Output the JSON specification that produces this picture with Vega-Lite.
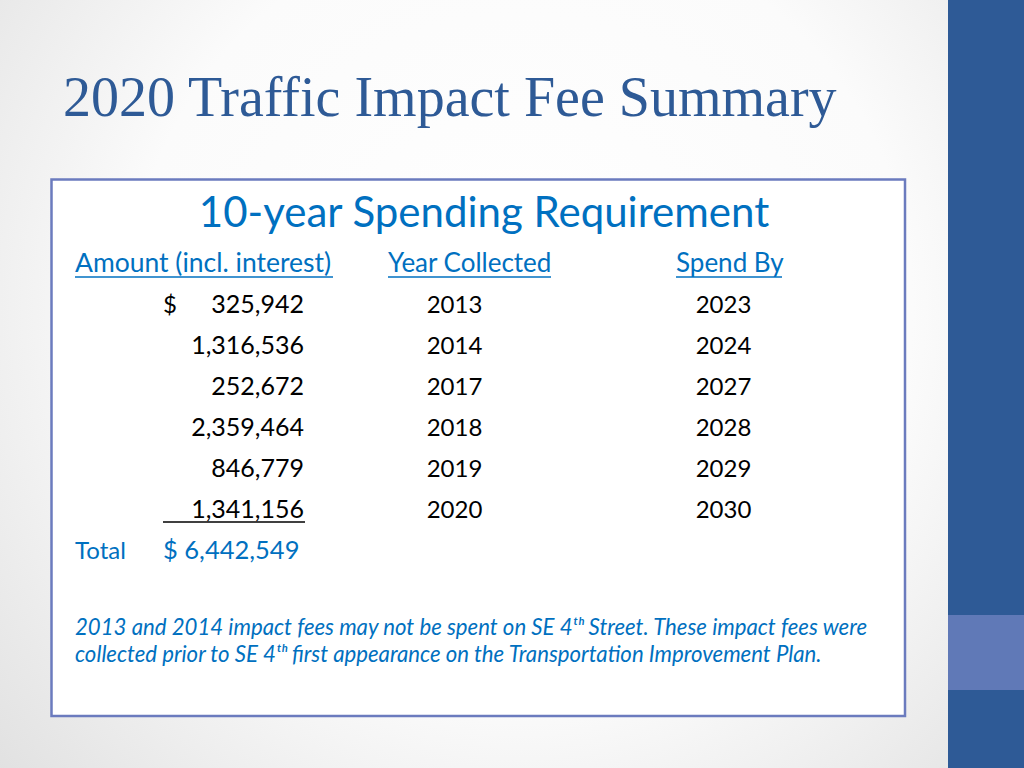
{
  "$schema": "https://vega.github.io/schema/vega-lite/v6.json",
  "width": 1024,
  "height": 768,
  "autosize": {"type": "fit", "contains": "padding"},
  "padding": 0,
  "background": "#ffffff",
  "config": {"view": {"stroke": null}},
  "datasets": {
    "texts": [
      {"id": "title", "text": "2020 Traffic Impact Fee Summary"},
      {"id": "subtitle", "text": "10-year Spending Requirement"},
      {"id": "note", "text": ["2013 and 2014 impact fees may not be spent on SE 4ᵗʰ Street.  These impact fees were", "collected prior to SE 4ᵗʰ first appearance on the Transportation Improvement Plan."]}
    ],
    "headers": [
      {"row": "H", "col": "amount", "label": "Amount (incl. interest)"},
      {"row": "H", "col": "collected", "label": "Year Collected"},
      {"row": "H", "col": "spend", "label": "Spend By"}
    ],
    "rows": [
      {"row": "1", "currency": "$", "amount": 325942, "collected": "2013", "spendBy": "2023"},
      {"row": "2", "currency": "", "amount": 1316536, "collected": "2014", "spendBy": "2024"},
      {"row": "3", "currency": "", "amount": 252672, "collected": "2017", "spendBy": "2027"},
      {"row": "4", "currency": "", "amount": 2359464, "collected": "2018", "spendBy": "2028"},
      {"row": "5", "currency": "", "amount": 846779, "collected": "2019", "spendBy": "2029"},
      {"row": "6", "currency": "", "amount": 1341156, "collected": "2020", "spendBy": "2030"}
    ],
    "total": [
      {"row": "T", "label": "Total", "amount": "$ 6,442,549"}
    ]
  },
  "resolve": {"scale": {"y": "independent"}},
  "layer": [
    {
      "data": {"name": "texts"},
      "layer": [
        {
          "mark": {"type": "rect", "fill": {"gradient": "radial", "x1": 0.55, "y1": 0.42, "r1": 0, "x2": 0.55, "y2": 0.42, "r2": 0.75, "stops": [{"offset": 0, "color": "#ffffff"}, {"offset": 0.55, "color": "#fbfbfb"}, {"offset": 1, "color": "#e0e0e0"}]}},
          "transform": [{"filter": "datum.id === 'title'"}],
          "encoding": {
            "x": {"datum": 0, "type": "quantitative", "scale": {"domain": [0, 1024], "nice": false, "zero": false}, "axis": null},
            "x2": {"datum": 948},
            "y": {"datum": 0, "type": "quantitative", "scale": {"domain": [0, 768], "reverse": true, "nice": false, "zero": false}, "axis": null},
            "y2": {"datum": 768}
          }
        },
        {
          "mark": {"type": "rect", "fill": "#2E5A96"},
          "transform": [{"filter": "datum.id === 'title'"}],
          "encoding": {
            "x": {"datum": 948, "type": "quantitative"},
            "x2": {"datum": 1024},
            "y": {"datum": 0, "type": "quantitative"},
            "y2": {"datum": 768}
          }
        },
        {
          "mark": {"type": "rect", "fill": "#6079B7"},
          "transform": [{"filter": "datum.id === 'title'"}],
          "encoding": {
            "x": {"datum": 948, "type": "quantitative"},
            "x2": {"datum": 1024},
            "y": {"datum": 615, "type": "quantitative"},
            "y2": {"datum": 690}
          }
        },
        {
          "mark": {"type": "rect", "fill": "#ffffff", "stroke": "#6B7BBE", "strokeWidth": 2.5},
          "transform": [{"filter": "datum.id === 'title'"}],
          "encoding": {
            "x": {"datum": 51.5, "type": "quantitative"},
            "x2": {"datum": 905},
            "y": {"datum": 179.5, "type": "quantitative"},
            "y2": {"datum": 716}
          }
        },
        {
          "mark": {"type": "text", "font": "Liberation Serif", "fontSize": 56, "color": "#2E5A96", "align": "left", "baseline": "alphabetic"},
          "transform": [{"filter": "datum.id === 'title'"}],
          "encoding": {
            "x": {"datum": 63, "type": "quantitative"},
            "y": {"datum": 116, "type": "quantitative"},
            "text": {"field": "text"}
          }
        },
        {
          "mark": {"type": "text", "font": "Lato", "fontSize": 42, "color": "#0070C0", "align": "center", "baseline": "alphabetic"},
          "transform": [{"filter": "datum.id === 'subtitle'"}],
          "encoding": {
            "x": {"datum": 484, "type": "quantitative"},
            "y": {"datum": 227, "type": "quantitative"},
            "text": {"field": "text"}
          }
        },
        {
          "mark": {"type": "text", "font": "Lato", "fontSize": 22.2, "fontStyle": "italic", "color": "#0070C0", "align": "left", "baseline": "alphabetic", "lineHeight": 27},
          "transform": [{"filter": "datum.id === 'note'"}],
          "encoding": {
            "x": {"datum": 75, "type": "quantitative"},
            "y": {"datum": 635, "type": "quantitative"},
            "text": {"field": "text"}
          }
        }
      ]
    },
    {
      "layer": [
        {
          "data": {"name": "headers"},
          "transform": [{"filter": "datum.col === 'amount'"}],
          "mark": {"type": "text", "font": "Lato", "fontSize": 26.5, "color": "#0070C0", "align": "left", "baseline": "alphabetic"},
          "encoding": {
            "x": {"datum": 75, "type": "quantitative"},
            "y": {"field": "row", "type": "ordinal", "scale": {"type": "point", "domain": ["H", "1", "2", "3", "4", "5", "6", "T"], "range": [272, 559], "padding": 0}, "axis": null},
            "text": {"field": "label"}
          }
        },
        {
          "data": {"name": "headers"},
          "transform": [{"filter": "datum.col === 'collected'"}],
          "mark": {"type": "text", "font": "Lato", "fontSize": 26, "color": "#0070C0", "align": "left", "baseline": "alphabetic"},
          "encoding": {
            "x": {"datum": 388, "type": "quantitative"},
            "y": {"field": "row", "type": "ordinal"},
            "text": {"field": "label"}
          }
        },
        {
          "data": {"name": "headers"},
          "transform": [{"filter": "datum.col === 'spend'"}],
          "mark": {"type": "text", "font": "Lato", "fontSize": 26, "color": "#0070C0", "align": "left", "baseline": "alphabetic"},
          "encoding": {
            "x": {"datum": 676, "type": "quantitative"},
            "y": {"field": "row", "type": "ordinal"},
            "text": {"field": "label"}
          }
        },
        {
          "data": {"name": "headers"},
          "transform": [{"filter": "datum.col === 'amount'"}],
          "mark": {"type": "rule", "color": "#0070C0", "strokeWidth": 1.5, "yOffset": 5},
          "encoding": {
            "x": {"datum": 75, "type": "quantitative"},
            "x2": {"datum": 333},
            "y": {"field": "row", "type": "ordinal"}
          }
        },
        {
          "data": {"name": "headers"},
          "transform": [{"filter": "datum.col === 'collected'"}],
          "mark": {"type": "rule", "color": "#0070C0", "strokeWidth": 1.5, "yOffset": 5},
          "encoding": {
            "x": {"datum": 388, "type": "quantitative"},
            "x2": {"datum": 551},
            "y": {"field": "row", "type": "ordinal"}
          }
        },
        {
          "data": {"name": "headers"},
          "transform": [{"filter": "datum.col === 'spend'"}],
          "mark": {"type": "rule", "color": "#0070C0", "strokeWidth": 1.5, "yOffset": 5},
          "encoding": {
            "x": {"datum": 676, "type": "quantitative"},
            "x2": {"datum": 782},
            "y": {"field": "row", "type": "ordinal"}
          }
        },
        {
          "data": {"name": "rows"},
          "mark": {"type": "text", "font": "Lato", "fontSize": 24, "color": "#000000", "align": "left", "baseline": "alphabetic"},
          "encoding": {
            "x": {"datum": 163, "type": "quantitative"},
            "y": {"field": "row", "type": "ordinal"},
            "text": {"field": "currency"}
          }
        },
        {
          "data": {"name": "rows"},
          "mark": {"type": "text", "font": "Lato", "fontSize": 25, "color": "#000000", "align": "right", "baseline": "alphabetic"},
          "encoding": {
            "x": {"datum": 304, "type": "quantitative"},
            "y": {"field": "row", "type": "ordinal"},
            "text": {"field": "amount", "type": "quantitative", "format": ","}
          }
        },
        {
          "data": {"name": "rows"},
          "mark": {"type": "text", "font": "Lato", "fontSize": 24, "color": "#000000", "align": "center", "baseline": "alphabetic"},
          "encoding": {
            "x": {"datum": 454.5, "type": "quantitative"},
            "y": {"field": "row", "type": "ordinal"},
            "text": {"field": "collected"}
          }
        },
        {
          "data": {"name": "rows"},
          "mark": {"type": "text", "font": "Lato", "fontSize": 24, "color": "#000000", "align": "center", "baseline": "alphabetic"},
          "encoding": {
            "x": {"datum": 723.5, "type": "quantitative"},
            "y": {"field": "row", "type": "ordinal"},
            "text": {"field": "spendBy"}
          }
        },
        {
          "data": {"name": "rows"},
          "transform": [{"filter": "datum.row === '6'"}],
          "mark": {"type": "rule", "color": "#000000", "strokeWidth": 1.5, "yOffset": 4},
          "encoding": {
            "x": {"datum": 163, "type": "quantitative"},
            "x2": {"datum": 305},
            "y": {"field": "row", "type": "ordinal"}
          }
        },
        {
          "data": {"name": "total"},
          "mark": {"type": "text", "font": "Lato", "fontSize": 24, "color": "#0070C0", "align": "left", "baseline": "alphabetic"},
          "encoding": {
            "x": {"datum": 75, "type": "quantitative"},
            "y": {"field": "row", "type": "ordinal"},
            "text": {"field": "label"}
          }
        },
        {
          "data": {"name": "total"},
          "mark": {"type": "text", "font": "Lato", "fontSize": 25.5, "color": "#0070C0", "align": "left", "baseline": "alphabetic"},
          "encoding": {
            "x": {"datum": 163, "type": "quantitative"},
            "y": {"field": "row", "type": "ordinal"},
            "text": {"field": "amount"}
          }
        }
      ]
    }
  ]
}
